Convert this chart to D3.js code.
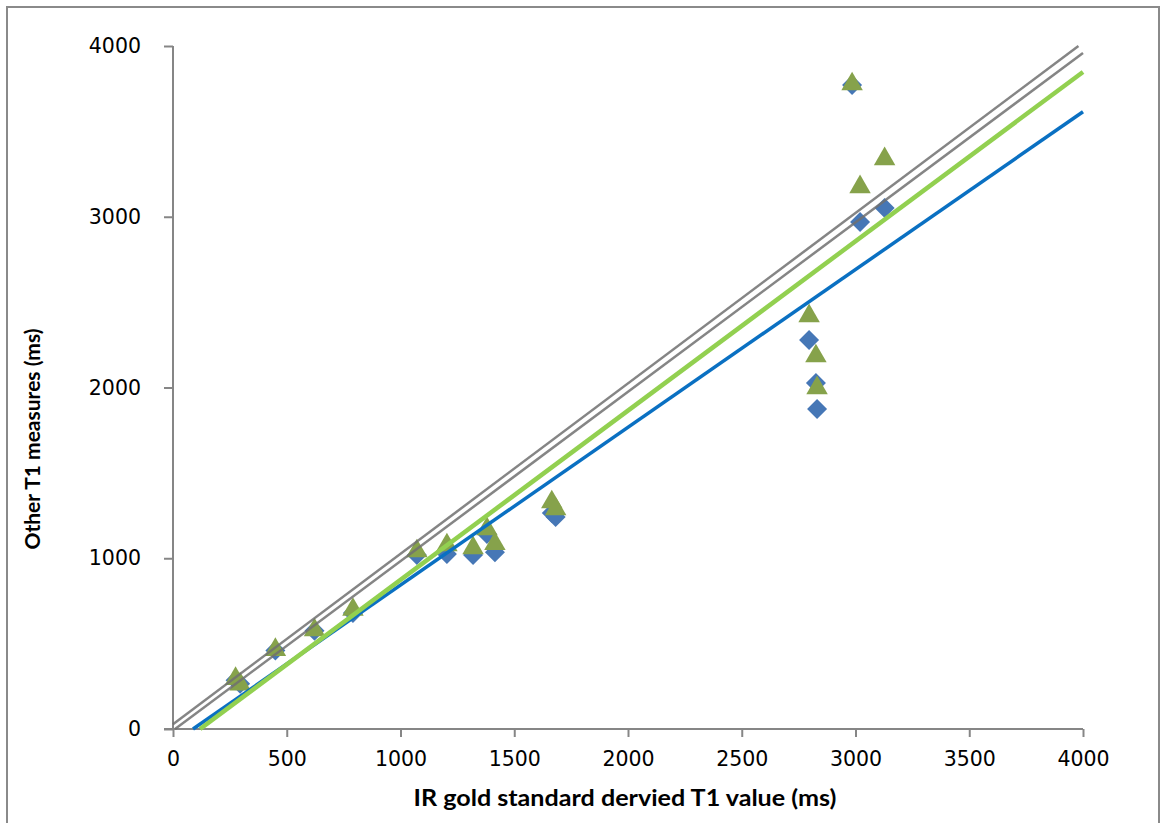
<!DOCTYPE html>
<html>
<head>
<meta charset="utf-8">
<script src="https://cdn.jsdelivr.net/npm/d3@7"></script>
<style>
  html, body { margin: 0; padding: 0; background: #fff; }
  svg { display: block; }
</style>
</head>
<body>
<svg id="chart" width="1162" height="823"></svg>
<script>
// ---- data ----
const irT1 =      [275, 295, 450, 622, 791, 1072, 1204, 1319, 1380, 1415, 1665, 1682, 2796, 2826, 2831, 2985, 3020, 3128];
const seriesBlue = [285, 265, 460, 575, 680, 1019, 1025, 1019, 1142, 1035, 1265, 1242, 2278, 2026, 1874, 3772, 2969, 3051];
const seriesGreen= [300, 268, 470, 585, 705, 1048, 1083, 1066, 1177, 1090, 1335, 1294, 2425, 2190, 2003, 3783, 3180, 3344];

// reference / fit lines as [x0, y0, x1, y1] in data units
const greyLineUpper = [0, 28, 3980, 4000];
const greyLineLower = [9, 0, 4000, 3959];
const blueFit  = [88, 0, 4000, 3615];
const greenFit = [119, 0, 4000, 3848];

const xTicks = [0, 500, 1000, 1500, 2000, 2500, 3000, 3500, 4000];
const yTicks = [0, 1000, 2000, 3000, 4000];

const xTitle = "IR gold standard dervied T1 value (ms)";
const yTitle = "Other T1 measures (ms)";

// ---- drawing ----
(function () {
const svg = d3.select("#chart");
const mLeft = 173, mRight = 1083, mTop = 46, mBottom = 729;

const x = d3.scaleLinear().domain([0, 4000]).range([mLeft, mRight]);
const y = d3.scaleLinear().domain([0, 4000]).range([mBottom, mTop]);

// outer frame
svg.append("rect")
  .attr("x", 7).attr("y", 7).attr("width", 1152).attr("height", 840)
  .attr("fill", "none").attr("stroke", "#8a8a8a").attr("stroke-width", 2);

const axisColor = "#868686";

const yAxis = svg.append("g")
  .attr("transform", `translate(${mLeft},0)`)
  .call(d3.axisLeft(y).tickValues(yTicks).tickSize(9).tickPadding(23).tickFormat(d3.format("d")));
const xAxis = svg.append("g")
  .attr("transform", `translate(0,${mBottom})`)
  .call(d3.axisBottom(x).tickValues(xTicks).tickSize(8).tickPadding(14).tickFormat(d3.format("d")));

[xAxis, yAxis].forEach(g => {
  g.select(".domain").attr("stroke", axisColor).attr("stroke-width", 2);
  g.selectAll(".tick line").attr("stroke", axisColor).attr("stroke-width", 2);
  g.selectAll(".tick text")
    .attr("fill", "#000")
    .style("font-family", "'DejaVu Sans', Verdana, sans-serif")
    .style("font-size", "20.5px");
});
yAxis.select(".domain").attr("d", `M0,${mTop}V${mBottom}`);
xAxis.select(".domain").attr("d", `M${mLeft - 9},0H${mRight}`);

// markers: diamonds (blue series) then triangles (green series)
svg.append("g").selectAll("path")
  .data(irT1.map((v, i) => [v, seriesBlue[i]]))
  .join("path")
  .attr("d", d3.symbol().type(d3.symbolSquare).size(200))
  .attr("transform", d => `translate(${x(d[0])},${y(d[1])}) rotate(45)`)
  .attr("fill", "#4677b6");

const tri = d3.symbol().type(d3.symbolTriangle).size(200);
svg.append("g").selectAll("path")
  .data(irT1.map((v, i) => [v, seriesGreen[i]]))
  .join("path")
  .attr("d", tri)
  .attr("transform", d => `translate(${x(d[0])},${y(d[1]) + 1})`)
  .attr("fill", "#86a24b");

function drawLine(seg, color, width, opacity) {
  svg.append("line")
    .attr("x1", x(seg[0])).attr("y1", y(seg[1]))
    .attr("x2", x(seg[2])).attr("y2", y(seg[3]))
    .attr("stroke", color).attr("stroke-width", width)
    .attr("stroke-opacity", opacity);
}
drawLine(greyLineUpper, "#707070", 2.5, 0.85);
drawLine(greyLineLower, "#707070", 2.5, 0.85);
drawLine(blueFit, "#0a70c2", 3.5, 1);
drawLine(greenFit, "#92d050", 4.5, 1);

svg.append("text")
  .attr("x", 625).attr("y", 806)
  .attr("text-anchor", "middle")
  .attr("textLength", 423).attr("lengthAdjust", "spacingAndGlyphs")
  .style("font-family", "Lato, 'Open Sans', sans-serif")
  .style("font-weight", "bold").style("font-size", "22px")
  .text(xTitle);

svg.append("text")
  .attr("transform", `translate(40,439) rotate(-90)`)
  .attr("text-anchor", "middle")
  .style("font-family", "Lato, 'Open Sans', sans-serif")
  .style("font-weight", "bold").style("font-size", "21px")
  .text(yTitle);
})();
</script>
</body>
</html>
